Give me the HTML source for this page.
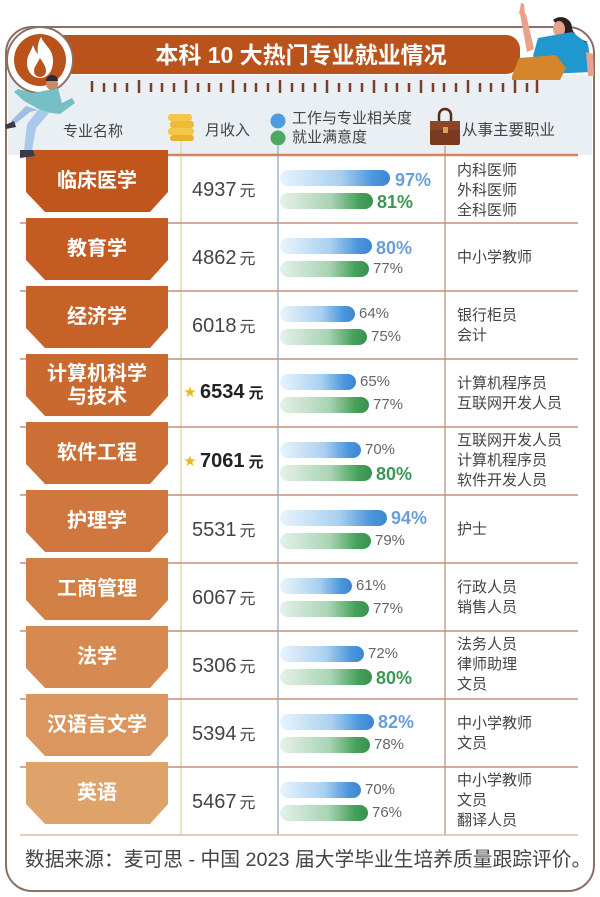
<!DOCTYPE html>
<html><head><meta charset="utf-8">
<style>
body{margin:0;width:600px;height:897px;position:relative;background:#fff;overflow:hidden;font-family:"Liberation Sans","Noto Sans CJK SC",sans-serif;}
.a{position:absolute;white-space:nowrap;}
.lb{position:absolute;left:26px;width:142px;text-align:center;color:#fff;font-weight:bold;font-size:20px;line-height:23px;}
.inc{position:absolute;left:192px;color:#444;font-size:20px;line-height:24px;white-space:nowrap;}
.inc span{font-size:16px;margin-left:3px;}
.incb{position:absolute;left:184px;color:#222;font-size:20px;font-weight:bold;line-height:24px;white-space:nowrap;}
.incb i{font-style:normal;color:#e8b820;font-size:12px;vertical-align:2px;margin-right:4px;}
.incb span{font-size:15px;margin-left:4px;}
.p{position:absolute;font-size:15px;color:#666;line-height:20px;white-space:nowrap;}
.pb{position:absolute;font-size:18px;font-weight:bold;color:#6a9ed8;line-height:20px;white-space:nowrap;}
.pg{position:absolute;font-size:18px;font-weight:bold;color:#3e9656;line-height:20px;white-space:nowrap;}
.job{position:absolute;left:457px;font-size:15px;color:#444;line-height:20px;white-space:nowrap;}
.h{position:absolute;font-size:15px;color:#444;line-height:18px;white-space:nowrap;}
</style></head><body>
<svg width="600" height="897" style="position:absolute;left:0;top:0">
<defs>
<linearGradient id="gb" x1="0" x2="1" y1="0" y2="0"><stop offset="0" stop-color="#eaf4fc"/><stop offset="0.55" stop-color="#a9d0f0"/><stop offset="0.85" stop-color="#4a95dc"/><stop offset="1" stop-color="#3f87d0"/></linearGradient>
<linearGradient id="gg" x1="0" x2="1" y1="0" y2="0"><stop offset="0" stop-color="#e6f1ea"/><stop offset="0.55" stop-color="#a9d3b4"/><stop offset="0.85" stop-color="#45a15a"/><stop offset="1" stop-color="#3a9150"/></linearGradient>
</defs>
<!-- frame -->
<rect x="6" y="27" width="588" height="864" rx="26" fill="#fff" stroke="#8b6f64" stroke-width="2"/>
<rect x="8" y="75" width="584" height="80" fill="#e9eff3"/>
<!-- banner -->
<path d="M40,35 H506 A14,14 0 0 1 520,49 V60 A14,14 0 0 1 506,74 H40 Z" fill="#b9521b"/>
<!-- flame circle -->
<circle cx="40" cy="60" r="33" fill="#fff" stroke="#8b6f64" stroke-width="2"/>
<circle cx="40" cy="60" r="26" fill="#b9521b"/>
<path d="M41,37 C45,46 53,49 53,61 C53,72 47,78 40,78 C32,78 27,71 27,63 C27,55 31,52 33,45 C35,50 36,52 38,54 C37,48 38,42 41,37 Z" fill="#fff"/>
<path d="M40,58 C43,63 46,66 46,71 C46,75 43,77 40,77 C37,77 34,75 34,71 C34,67 37,64 40,58 Z" fill="#b9521b"/>
<!-- ruler ticks -->
<g stroke="#7a3e2a" stroke-width="2.5">
<line x1="92" y1="81" x2="92" y2="92"/><line x1="104" y1="83" x2="104" y2="92"/><line x1="115" y1="83" x2="115" y2="92"/><line x1="127" y1="83" x2="127" y2="92"/>
<line x1="139" y1="80" x2="139" y2="93"/><line x1="151" y1="83" x2="151" y2="92"/><line x1="162" y1="83" x2="162" y2="92"/><line x1="174" y1="83" x2="174" y2="92"/>
<line x1="186" y1="80" x2="186" y2="93"/><line x1="198" y1="83" x2="198" y2="92"/><line x1="209" y1="83" x2="209" y2="92"/><line x1="221" y1="83" x2="221" y2="92"/>
<line x1="233" y1="80" x2="233" y2="93"/><line x1="245" y1="83" x2="245" y2="92"/><line x1="256" y1="83" x2="256" y2="92"/><line x1="268" y1="83" x2="268" y2="92"/>
<line x1="280" y1="80" x2="280" y2="93"/><line x1="292" y1="83" x2="292" y2="92"/><line x1="303" y1="83" x2="303" y2="92"/><line x1="315" y1="83" x2="315" y2="92"/>
<line x1="327" y1="80" x2="327" y2="93"/><line x1="339" y1="83" x2="339" y2="92"/><line x1="350" y1="83" x2="350" y2="92"/><line x1="362" y1="83" x2="362" y2="92"/>
<line x1="374" y1="80" x2="374" y2="93"/><line x1="386" y1="83" x2="386" y2="92"/><line x1="397" y1="83" x2="397" y2="92"/><line x1="409" y1="83" x2="409" y2="92"/>
<line x1="421" y1="80" x2="421" y2="93"/><line x1="433" y1="83" x2="433" y2="92"/><line x1="444" y1="83" x2="444" y2="92"/><line x1="456" y1="83" x2="456" y2="92"/>
<line x1="468" y1="80" x2="468" y2="93"/><line x1="480" y1="83" x2="480" y2="92"/><line x1="491" y1="83" x2="491" y2="92"/><line x1="503" y1="83" x2="503" y2="92"/>
<line x1="515" y1="80" x2="515" y2="93"/><line x1="527" y1="83" x2="527" y2="92"/><line x1="537" y1="80" x2="537" y2="93"/>
</g>
<!-- header icons -->
<rect x="168" y="114" width="24" height="7" rx="3" fill="#f3c84a"/>
<rect x="170" y="121" width="24" height="7" rx="3" fill="#eebb35"/>
<rect x="168" y="128" width="26" height="7" rx="3" fill="#f3c84a"/>
<rect x="170" y="135" width="24" height="6" rx="3" fill="#e8b22a"/>
<circle cx="278" cy="121" r="7.5" fill="#4d9be0"/>
<circle cx="278" cy="138" r="7.5" fill="#4fa860"/>
<path d="M439,121 V115 A6,6 0 0 1 451,115 V121" fill="none" stroke="#5a2a18" stroke-width="2.5"/>
<rect x="430" y="121" width="30" height="24" rx="2" fill="#7a3a20"/>
<rect x="430" y="121" width="30" height="9" fill="#8e4526"/>
<rect x="443" y="127" width="5" height="6" fill="#d9a060"/>
<!-- grid lines -->
<g stroke-width="1.5">
<line x1="181" y1="141" x2="181" y2="835" stroke="#e7dca8"/>
<line x1="278" y1="146" x2="278" y2="835" stroke="#9fb4c6"/>
<line x1="445" y1="146" x2="445" y2="835" stroke="#c4a497"/>
</g>
<line x1="22" y1="155" x2="578" y2="155" stroke="#d3845a" stroke-width="2.5"/>
<g stroke="#c4907a" stroke-width="1.6">
<line x1="20" y1="223" x2="578" y2="223"/><line x1="20" y1="291" x2="578" y2="291"/><line x1="20" y1="359" x2="578" y2="359"/>
<line x1="20" y1="427" x2="578" y2="427"/><line x1="20" y1="495" x2="578" y2="495"/><line x1="20" y1="563" x2="578" y2="563"/>
<line x1="20" y1="631" x2="578" y2="631"/><line x1="20" y1="699" x2="578" y2="699"/><line x1="20" y1="767" x2="578" y2="767"/>
</g>
<line x1="20" y1="835" x2="578" y2="835" stroke="#dcbda4" stroke-width="1.6"/>
<!-- label boxes -->
<polygon points="26,150 168,150 168,192 150,212 45,212 26,192" fill="#c1561d"/>
<polygon points="26,218 168,218 168,260 150,280 45,280 26,260" fill="#c45b23"/>
<polygon points="26,286 168,286 168,328 150,348 45,348 26,328" fill="#c66128"/>
<polygon points="26,354 168,354 168,396 150,416 45,416 26,396" fill="#c9682f"/>
<polygon points="26,422 168,422 168,464 150,484 45,484 26,464" fill="#cc6f36"/>
<polygon points="26,490 168,490 168,532 150,552 45,552 26,532" fill="#cf773e"/>
<polygon points="26,558 168,558 168,600 150,620 45,620 26,600" fill="#d27f46"/>
<polygon points="26,626 168,626 168,668 150,688 45,688 26,668" fill="#d68a52"/>
<polygon points="26,694 168,694 168,736 150,756 45,756 26,736" fill="#da965e"/>
<polygon points="26,762 168,762 168,804 150,824 45,824 26,804" fill="#dea26b"/>
<!-- bars -->
<g>
<rect x="280" y="170" width="110" height="16" rx="8" fill="url(#gb)"/><rect x="280" y="193" width="93" height="16" rx="8" fill="url(#gg)"/>
<rect x="280" y="238" width="92" height="16" rx="8" fill="url(#gb)"/><rect x="280" y="261" width="89" height="16" rx="8" fill="url(#gg)"/>
<rect x="280" y="306" width="75" height="16" rx="8" fill="url(#gb)"/><rect x="280" y="329" width="87" height="16" rx="8" fill="url(#gg)"/>
<rect x="280" y="374" width="76" height="16" rx="8" fill="url(#gb)"/><rect x="280" y="397" width="89" height="16" rx="8" fill="url(#gg)"/>
<rect x="280" y="442" width="81" height="16" rx="8" fill="url(#gb)"/><rect x="280" y="465" width="92" height="16" rx="8" fill="url(#gg)"/>
<rect x="280" y="510" width="107" height="16" rx="8" fill="url(#gb)"/><rect x="280" y="533" width="91" height="16" rx="8" fill="url(#gg)"/>
<rect x="280" y="578" width="72" height="16" rx="8" fill="url(#gb)"/><rect x="280" y="601" width="89" height="16" rx="8" fill="url(#gg)"/>
<rect x="280" y="646" width="84" height="16" rx="8" fill="url(#gb)"/><rect x="280" y="669" width="92" height="16" rx="8" fill="url(#gg)"/>
<rect x="280" y="714" width="94" height="16" rx="8" fill="url(#gb)"/><rect x="280" y="737" width="90" height="16" rx="8" fill="url(#gg)"/>
<rect x="280" y="782" width="81" height="16" rx="8" fill="url(#gb)"/><rect x="280" y="805" width="88" height="16" rx="8" fill="url(#gg)"/>
</g>
<!-- woman -->
<path d="M553,20 C560,14 572,18 572,28 C574,36 582,40 588,42 C580,46 570,42 566,36 Z" fill="#2b2020"/>
<ellipse cx="559" cy="29" rx="6" ry="8" fill="#e8a28a"/>
<polygon points="527,52 534,49 526,14 520,14" fill="#e8a28a"/>
<polygon points="519,14 521,3 524,4 525,14" fill="#e8a28a"/>
<polygon points="538,38 572,32 588,44 592,72 546,74 533,56" fill="#1e98cf"/>
<polygon points="586,52 593,54 594,76 588,76" fill="#e8a28a"/>
<polygon points="512,76 519,58 556,55 566,68 560,80 512,80" fill="#d4862c"/>
<!-- man -->
<polygon points="33,93 58,88 62,103 72,98 75,103 60,114 44,112 24,101 14,92 18,89" fill="#76c0c5"/>
<circle cx="52" cy="84" r="6" fill="#c98a6a"/>
<path d="M46,81 A6,6 0 0 1 58,81 Z" fill="#2b2a30"/>
<polygon points="38,110 50,112 36,128 32,150 24,150 27,124" fill="#a9c9ea"/>
<polygon points="38,110 30,112 15,124 11,121 26,106" fill="#9cc0e4"/>
<polygon points="5,125 14,121 16,127 6,129" fill="#3a3a4a"/>
<polygon points="20,150 33,150 35,156 20,158" fill="#3a3a4a"/>
</svg>

<div class="a" style="left:0;width:602px;top:41px;text-align:center;color:#fff;font-weight:bold;font-size:23px;line-height:28px;">本科 10 大热门专业就业情况</div>

<div class="h" style="left:63px;top:123px;">专业名称</div>
<div class="h" style="left:205px;top:122px;">月收入</div>
<div class="h" style="left:292px;top:110px;">工作与专业相关度</div>
<div class="h" style="left:292px;top:129px;">就业满意度</div>
<div class="h" style="left:462px;top:122px;font-size:15.5px;">从事主要职业</div>

<!-- labels -->
<div class="lb" style="top:170px;">临床医学</div>
<div class="lb" style="top:238px;">教育学</div>
<div class="lb" style="top:306px;">经济学</div>
<div class="lb" style="top:363px;">计算机科学<br>与技术</div>
<div class="lb" style="top:442px;">软件工程</div>
<div class="lb" style="top:510px;">护理学</div>
<div class="lb" style="top:578px;">工商管理</div>
<div class="lb" style="top:646px;">法学</div>
<div class="lb" style="top:714px;">汉语言文学</div>
<div class="lb" style="top:782px;">英语</div>

<!-- income -->
<div class="inc" style="top:178px;">4937<span>元</span></div>
<div class="inc" style="top:246px;">4862<span>元</span></div>
<div class="inc" style="top:314px;">6018<span>元</span></div>
<div class="incb" style="top:380px;"><i>★</i>6534<span>元</span></div>
<div class="incb" style="top:449px;"><i>★</i>7061<span>元</span></div>
<div class="inc" style="top:518px;">5531<span>元</span></div>
<div class="inc" style="top:586px;">6067<span>元</span></div>
<div class="inc" style="top:654px;">5306<span>元</span></div>
<div class="inc" style="top:722px;">5394<span>元</span></div>
<div class="inc" style="top:790px;">5467<span>元</span></div>

<!-- percentages -->
<div class="pb" style="left:395px;top:170px;">97%</div>
<div class="pg" style="left:377px;top:192px;">81%</div>
<div class="pb" style="left:376px;top:238px;">80%</div>
<div class="p" style="left:373px;top:259px;">77%</div>
<div class="p" style="left:359px;top:304px;">64%</div>
<div class="p" style="left:371px;top:327px;">75%</div>
<div class="p" style="left:360px;top:372px;">65%</div>
<div class="p" style="left:373px;top:395px;">77%</div>
<div class="p" style="left:365px;top:440px;">70%</div>
<div class="pg" style="left:376px;top:464px;">80%</div>
<div class="pb" style="left:391px;top:508px;">94%</div>
<div class="p" style="left:375px;top:531px;">79%</div>
<div class="p" style="left:356px;top:576px;">61%</div>
<div class="p" style="left:373px;top:599px;">77%</div>
<div class="p" style="left:368px;top:644px;">72%</div>
<div class="pg" style="left:376px;top:668px;">80%</div>
<div class="pb" style="left:378px;top:712px;">82%</div>
<div class="p" style="left:374px;top:735px;">78%</div>
<div class="p" style="left:365px;top:780px;">70%</div>
<div class="p" style="left:372px;top:803px;">76%</div>

<!-- jobs -->
<div class="job" style="top:161px;">内科医师<br>外科医师<br>全科医师</div>
<div class="job" style="top:248px;">中小学教师</div>
<div class="job" style="top:306px;">银行柜员<br>会计</div>
<div class="job" style="top:374px;">计算机程序员<br>互联网开发人员</div>
<div class="job" style="top:431px;">互联网开发人员<br>计算机程序员<br>软件开发人员</div>
<div class="job" style="top:520px;">护士</div>
<div class="job" style="top:578px;">行政人员<br>销售人员</div>
<div class="job" style="top:635px;">法务人员<br>律师助理<br>文员</div>
<div class="job" style="top:714px;">中小学教师<br>文员</div>
<div class="job" style="top:771px;">中小学教师<br>文员<br>翻译人员</div>

<div class="a" style="left:25px;top:847px;font-size:19.75px;color:#444;line-height:26px;">数据来源：麦可思 - 中国 2023 届大学毕业生培养质量跟踪评价。</div>
</body></html>
